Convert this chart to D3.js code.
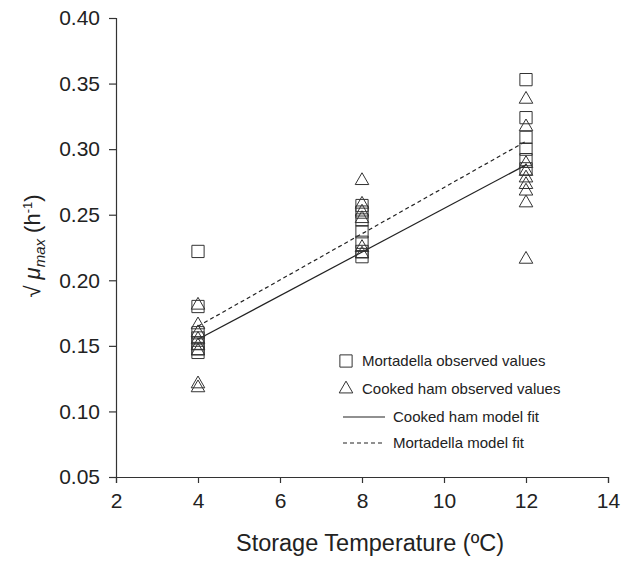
<!DOCTYPE html>
<html><head><meta charset="utf-8">
<script src="https://cdn.jsdelivr.net/npm/d3@7"></script>
<style>body{margin:0;background:#fff}svg{display:block}text{font-family:"Liberation Sans",Arial,sans-serif;fill:#222}</style>
</head><body>
<svg id="c" width="628" height="562"></svg>
<script>
const xTicks = [2,4,6,8,10,12,14];
const yTicks = [0.05,0.10,0.15,0.20,0.25,0.30,0.35,0.40];
const mortX = [4,4,4,4,4,4,4, 8,8,8,8,8,8,8, 12,12,12,12,12,12];
const mortY = [0.222,0.180,0.160,0.156,0.152,0.148,0.145, 0.257,0.252,0.246,0.237,0.229,0.222,0.218, 0.353,0.324,0.309,0.300,0.292,0.285];
const hamX = [4,4,4,4,4,4,4,4, 8,8,8,8,8,8, 12,12,12,12,12,12,12,12,12];
const hamY = [0.181,0.166,0.160,0.155,0.150,0.146,0.121,0.118, 0.276,0.258,0.252,0.247,0.225,0.220, 0.338,0.317,0.289,0.283,0.278,0.273,0.268,0.259,0.216];
const fitT = [4,12];
const hamFit = [0.155,0.288];
const mortFit = [0.165,0.306];
const legendLabels = ["Mortadella observed values","Cooked ham observed values","Cooked ham model fit","Mortadella model fit"];

const svg = d3.select("#c");
const x = d3.scaleLinear().domain([2,14]).range([116,608]);
const y = d3.scaleLinear().domain([0.05,0.40]).range([477,18]);
const ink = "#333";

const xa = svg.append("g").attr("transform","translate(0,477)")
  .call(d3.axisBottom(x).tickValues(xTicks).tickSize(6).tickPadding(10).tickFormat(d3.format("d")));
const ya = svg.append("g").attr("transform","translate(116,0)")
  .call(d3.axisLeft(y).tickValues(yTicks).tickSize(7).tickPadding(9).tickFormat(d3.format(".2f")));
[xa,ya].forEach(a=>{
  a.selectAll("path").attr("stroke",ink).attr("stroke-width",1.2);
  a.selectAll("line").attr("stroke",ink).attr("stroke-width",1.2);
  a.selectAll("text").style("font-size","21px").attr("fill","#222").style("font-family","Liberation Sans, Arial, sans-serif");
});

// model fits
const line = d3.line().x(d=>x(d[0])).y(d=>y(d[1]));
svg.append("path").attr("d",line(fitT.map((t,i)=>[t,hamFit[i]]))).attr("fill","none").attr("stroke","#222").attr("stroke-width",1.2);
svg.append("path").attr("d",line(fitT.map((t,i)=>[t,mortFit[i]]))).attr("fill","none").attr("stroke","#222").attr("stroke-width",1.2).attr("stroke-dasharray","4,3");

const sq = d3.symbol().type(d3.symbolSquare).size(150);
const tr = d3.symbol().type(d3.symbolTriangle).size(80);
svg.append("g").selectAll("path").data(hamX.map((t,i)=>[t,hamY[i]])).join("path")
  .attr("d",tr).attr("transform",d=>`translate(${x(d[0])},${y(d[1])})`)
  .attr("fill","none").attr("stroke",ink).attr("stroke-width",1);
svg.append("g").selectAll("path").data(mortX.map((t,i)=>[t,mortY[i]])).join("path")
  .attr("d",sq).attr("transform",d=>`translate(${x(d[0])},${y(d[1])})`)
  .attr("fill","none").attr("stroke",ink).attr("stroke-width",1);

// legend
const lg = svg.append("g");
const ly = [361,389,417,443];
lg.append("path").attr("d",sq).attr("transform",`translate(346,${ly[0]})`).attr("fill","none").attr("stroke",ink);
lg.append("path").attr("d",tr).attr("transform",`translate(346,${ly[1]})`).attr("fill","none").attr("stroke",ink);
lg.append("line").attr("x1",343).attr("x2",385).attr("y1",ly[2]).attr("y2",ly[2]).attr("stroke","#222").attr("stroke-width",1.2);
lg.append("line").attr("x1",343).attr("x2",385).attr("y1",ly[3]).attr("y2",ly[3]).attr("stroke","#222").attr("stroke-width",1.2).attr("stroke-dasharray","4,3");
const lx = [362,362,393,393];
legendLabels.forEach((t,i)=>{
  lg.append("text").attr("x",lx[i]).attr("y",ly[i]).attr("dy","0.35em").style("font-size","15px").text(t);
});

// axis titles
svg.append("text").attr("x",370).attr("y",551).attr("text-anchor","middle").style("font-size","23.5px").text("Storage Temperature (ºC)");
const yt = svg.append("text").attr("transform","translate(40,246) rotate(-90)").attr("text-anchor","middle").style("font-size","22px");
yt.append("tspan").text("√ ");
yt.append("tspan").style("font-style","italic").text("μ");
yt.append("tspan").style("font-style","italic").style("font-size","15px").attr("dy","5").text("max");
yt.append("tspan").attr("dy","-5").text(" (h");
yt.append("tspan").style("font-size","13px").attr("dy","-8").text("-1");
yt.append("tspan").attr("dy","8").text(")");
</script>
</body></html>
